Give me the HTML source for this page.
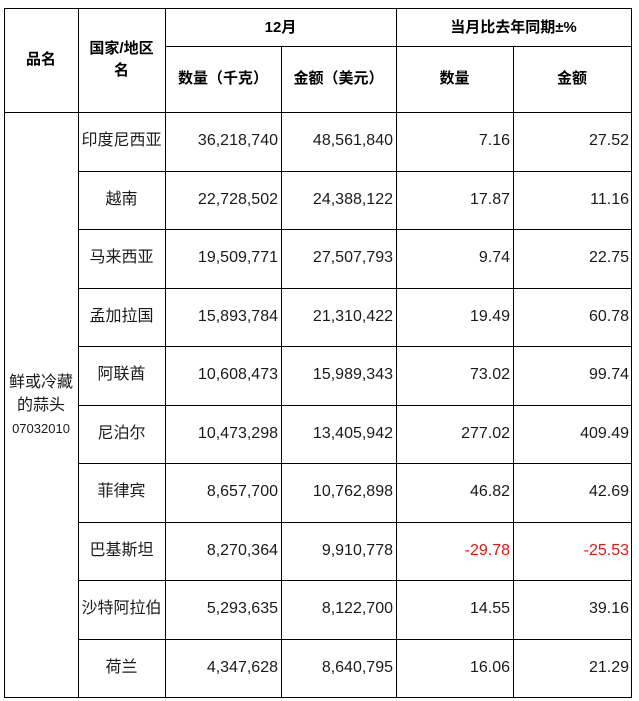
<!DOCTYPE html>
<html><head><meta charset="utf-8"><style>
body{margin:0;width:639px;height:701px;background:#fff;position:relative;overflow:hidden;font-family:"Liberation Sans","Noto Sans CJK SC",sans-serif;}
.h{position:absolute;height:1px;background:#000}
.v{position:absolute;width:1px;background:#000}
.t{position:absolute;font-size:16px;color:#1a1a1a;white-space:nowrap;line-height:20px}
.b{font-weight:bold;font-size:15px;color:#000}
.c{text-align:center}
.r{text-align:right}
.red{color:#e8130f}
</style></head><body>
<div class="h" style="left:4px;top:8px;width:628px"></div>
<div class="h" style="left:165px;top:46px;width:467px"></div>
<div class="h" style="left:4px;top:112px;width:628px"></div>
<div class="h" style="left:4px;top:697px;width:628px"></div>
<div class="v" style="left:4px;top:8px;height:690px"></div>
<div class="v" style="left:78px;top:8px;height:690px"></div>
<div class="v" style="left:165px;top:8px;height:690px"></div>
<div class="v" style="left:281px;top:46px;height:652px"></div>
<div class="v" style="left:396px;top:8px;height:690px"></div>
<div class="v" style="left:513px;top:46px;height:652px"></div>
<div class="v" style="left:631px;top:8px;height:690px"></div>

<div class="t b c" style="left:4px;width:74px;top:50px">品名</div>
<div class="t b c" style="left:78px;width:87px;top:38px;line-height:22px">国家/地区<br>名</div>
<div class="t b c" style="left:165px;width:231px;top:18px">12月</div>
<div class="t b c" style="left:396px;width:235px;top:18px">当月比去年同期±%</div>
<div class="t b c" style="left:165px;width:116px;top:69px">数量（千克）</div>
<div class="t b c" style="left:281px;width:115px;top:69px">金额（美元）</div>
<div class="t b c" style="left:396px;width:117px;top:69px">数量</div>
<div class="t b c" style="left:513px;width:118px;top:69px">金额</div>

<div class="t c" style="left:4px;width:74px;top:371px;line-height:23px">鲜或冷藏<br>的蒜头<br><span style="font-size:13px">07032010</span></div>

<div id="rows"></div>
<script>
var d=[["印度尼西亚","36,218,740","48,561,840","7.16","27.52"],
["越南","22,728,502","24,388,122","17.87","11.16"],
["马来西亚","19,509,771","27,507,793","9.74","22.75"],
["孟加拉国","15,893,784","21,310,422","19.49","60.78"],
["阿联酋","10,608,473","15,989,343","73.02","99.74"],
["尼泊尔","10,473,298","13,405,942","277.02","409.49"],
["菲律宾","8,657,700","10,762,898","46.82","42.69"],
["巴基斯坦","8,270,364","9,910,778","-29.78","-25.53"],
["沙特阿拉伯","5,293,635","8,122,700","14.55","39.16"],
["荷兰","4,347,628","8,640,795","16.06","21.29"]];
var h="";
for(var i=0;i<10;i++){var y=112+i*58.5;var ty=Math.round(y+19);
if(i>0)h+='<div class="h" style="left:78px;top:'+Math.round(y)+'px;width:554px"></div>';
var red=d[i][3][0]=="-"?" red":"";
h+='<div class="t c" style="left:78px;width:87px;top:'+ty+'px">'+d[i][0]+'</div>';
h+='<div class="t r" style="left:165px;width:113px;top:'+ty+'px">'+d[i][1]+'</div>';
h+='<div class="t r" style="left:281px;width:112px;top:'+ty+'px">'+d[i][2]+'</div>';
h+='<div class="t r'+red+'" style="left:396px;width:114px;top:'+ty+'px">'+d[i][3]+'</div>';
h+='<div class="t r'+red+'" style="left:513px;width:116px;top:'+ty+'px">'+d[i][4]+'</div>';}
document.getElementById("rows").innerHTML=h;
</script>
</body></html>
